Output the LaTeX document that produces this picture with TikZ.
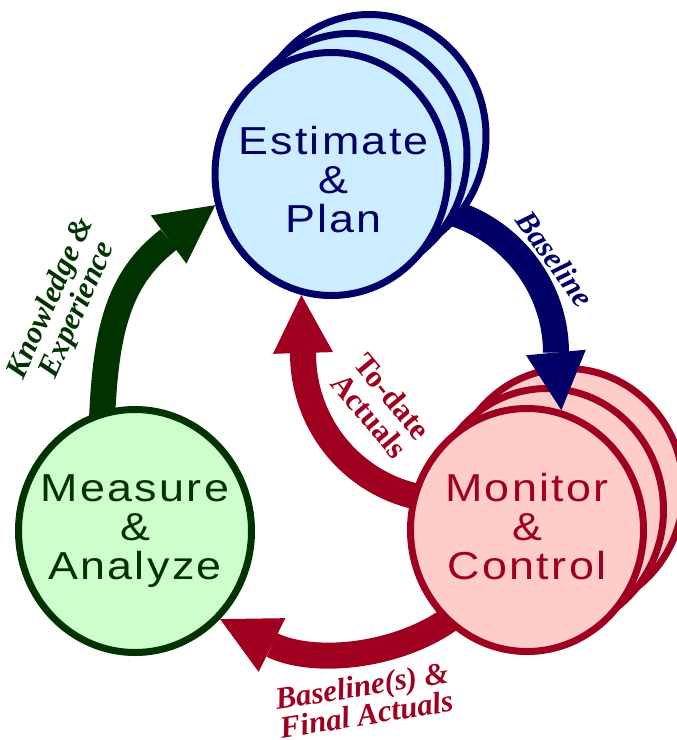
\documentclass[tikz,border=0pt]{standalone}
\usepackage{fontspec}
\usetikzlibrary{arrows.meta,shapes.geometric,calc}
\newfontfamily\circfont[FakeStretch=1.15,LetterSpace=6]{Liberation Sans}
\newfontfamily\labfont{Liberation Serif}
\definecolor{navy}{RGB}{0,0,102}
\definecolor{dgreen}{RGB}{0,51,0}
\definecolor{crim}{RGB}{160,0,32}
\definecolor{lblue}{RGB}{204,236,255}
\definecolor{lpink}{RGB}{255,204,204}
\definecolor{lgreen}{RGB}{204,255,204}
\pgfdeclarelayer{la}\pgfdeclarelayer{lb}\pgfdeclarelayer{lc}\pgfdeclarelayer{ld}\pgfdeclarelayer{le}
\pgfsetlayers{la,lb,lc,ld,le,main}
\tikzset{
 disk/.style={ellipse, minimum width=233pt, minimum height=243pt, inner sep=0pt, line width=7pt},
 band/.style={line width=26pt, -{Triangle[length=58pt 0 0, width=60pt 0 0, line width=0pt 0 0]}},
 circtext/.style={font=\circfont\fontsize{39}{39}\selectfont, align=center, inner sep=0pt},
 labtext/.style={font=\labfont\bfseries\itshape\fontsize{31}{29}\selectfont, align=center, inner sep=0pt},
 labup/.style={font=\labfont\bfseries\fontsize{31}{30}\selectfont, align=center, inner sep=0pt},
}
\begin{document}
\begin{tikzpicture}[x=1pt,y=-1pt]
\useasboundingbox (0,0) rectangle (677,740);
\begin{pgfonlayer}{la}
 \node[disk, draw=crim, fill=lpink] (M2) at (567,490) {};
 \node[disk, draw=crim, fill=lpink] (M1) at (547,510) {};
\end{pgfonlayer}
\begin{pgfonlayer}{lc}
 \node[disk, draw=navy, fill=lblue] (E2) at (369.5,136) {};
 \node[disk, draw=navy, fill=lblue] (E1) at (350.5,155) {};
 \node[disk, draw=navy, fill=lblue] (E) at (331.5,174) {};
\end{pgfonlayer}
\begin{pgfonlayer}{le}
 \node[disk, draw=crim, fill=lpink] (M) at (527,530) {};
 \node[disk, draw=dgreen, fill=lgreen] (A) at (135,531) {};
\end{pgfonlayer}
\coordinate (bs) at (412,207);
\coordinate (gs) at (101,480);
\coordinate (rs) at (448,500);
\coordinate (ls) at (490,575);
\begin{pgfonlayer}{lb}
 \draw[band, navy] (bs) .. controls (491,207) and (556,274) .. ($(M.74)!58pt!(556,353)$) -- (M.74);
\end{pgfonlayer}
\begin{pgfonlayer}{ld}
 \draw[band, dgreen] (gs) .. controls (101,340) and (113,283) .. ($(E.195)!58pt!(168,240)$) -- (E.195);
 \draw[band, crim] (rs) .. controls (368,500) and (303,435) .. ($(E.256)!58pt!(303,353)$) -- (E.256);
 \draw[band, crim] (ls) .. controls (450,650) and (326,671) .. ($(A.-46)!58pt!(272,645)$) -- (A.-46);
\end{pgfonlayer}
\node[circtext, text=navy] (te) at (333.5,180) {Estimate\\\&\\Plan};
\node[circtext, text=crim] (tm) at (527,527) {Monitor\\\&\\Control};
\node[circtext, text=dgreen] (ta) at (135,531) {Measure\\\&\\Analyze};
\node[labtext, text=navy, rotate=-54] (lb) at (555,259) {Baseline};
\node[labtext, text=dgreen, rotate=66] (lk) at (65,304) {Knowledge \&\\Experience};
\node[labup, text=crim, rotate=-50] (lt) at (381,406) {To-date\\Actuals};
\node[labtext, text=crim, rotate=9] (lf) at (364,700) {Baseline(s) \&\\Final Actuals};
\end{tikzpicture}
\end{document}
